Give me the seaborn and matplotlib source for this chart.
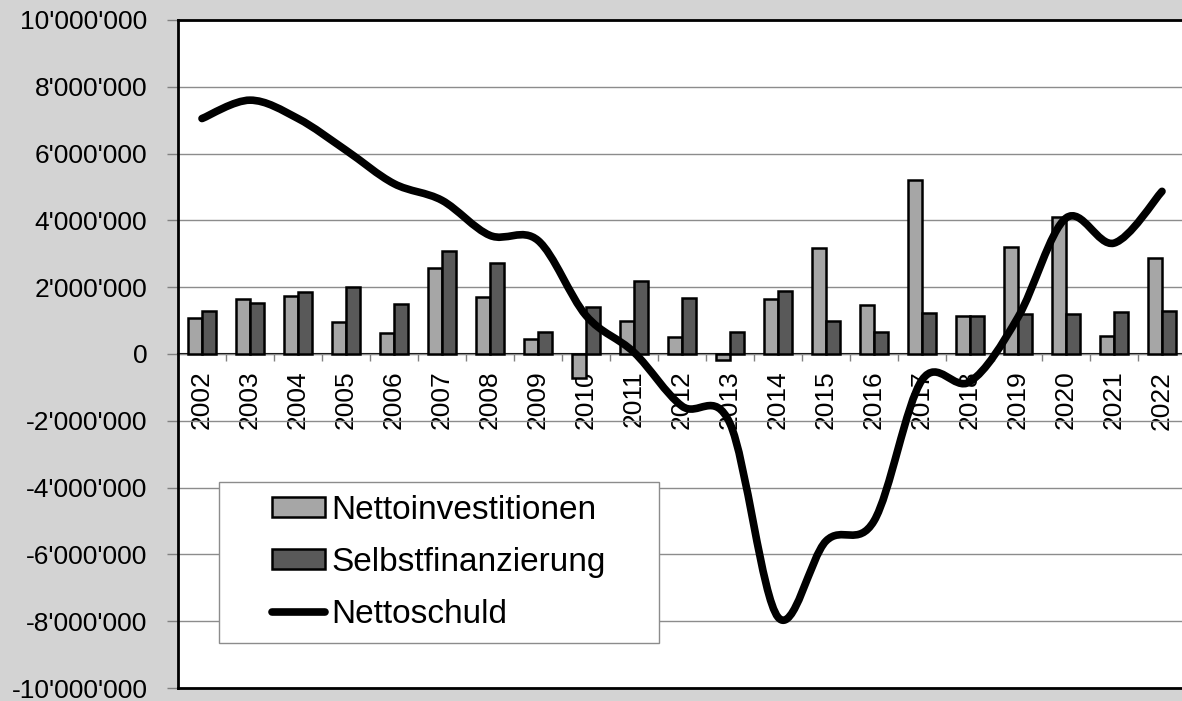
import pandas as pd
import seaborn as sns
import matplotlib.pyplot as plt
from matplotlib.path import Path
from matplotlib.patches import PathPatch, Patch
from matplotlib.lines import Line2D
from matplotlib.ticker import FuncFormatter, FixedLocator

# =========================
# DATA
# =========================

jahre = ["2002", "2003", "2004", "2005", "2006", "2007", "2008", "2009", "2010", "2011", "2012",
         "2013", "2014", "2015", "2016", "2017", "2018", "2019", "2020", "2021", "2022"]

nettoinvestitionen = [1070000, 1640000, 1750000, 960000, 620000, 2570000, 1720000, 450000, -720000,
                      1000000, 520000, -180000, 1640000, 3160000, 1460000, 5210000, 1140000,
                      3210000, 4090000, 540000, 2870000]

selbstfinanzierung = [1300000, 1520000, 1870000, 2000000, 1500000, 3090000, 2730000, 670000, 1420000,
                      2190000, 1670000, 670000, 1890000, 1000000, 670000, 1240000, 1140000,
                      1200000, 1200000, 1270000, 1290000]

nettoschuld = [7050000, 7600000, 7050000, 6100000, 5100000, 4600000, 3550000, 3400000, 1150000,
               50000, -1560000, -2080000, -7880000, -5600000, -5000000, -780000, -830000,
               1100000, 4070000, 3320000, 4870000]

serien = ["Nettoinvestitionen", "Selbstfinanzierung"]
farben = ["#a6a6a6", "#595959"]

df = pd.DataFrame({
    "Jahr": jahre * 2,
    "Serie": [serien[0]] * len(jahre) + [serien[1]] * len(jahre),
    "Wert": nettoinvestitionen + selbstfinanzierung,
})

# =========================
# FIGURE
# =========================

plt.rcParams['font.family'] = ['Liberation Sans', 'DejaVu Sans']

fig = plt.figure(figsize=(11.82, 7.01), dpi=100, facecolor="#d3d3d3")
ax = fig.add_axes([178 / 1182, 13 / 701, 1008 / 1182, 668 / 701])
ax.set_facecolor("white")

sns.barplot(data=df, x="Jahr", y="Wert", hue="Serie", order=jahre, hue_order=serien,
            palette=farben, width=0.6, edgecolor="black", linewidth=1.8,
            legend=False, ax=ax, zorder=2)

# smoothed line (Excel-like) through the Nettoschuld points
xs = list(range(len(jahre)))
verts = [(xs[0], nettoschuld[0])]
codes = [Path.MOVETO]
n = len(xs)
for i in range(n - 1):
    p0 = max(i - 1, 0)
    p3 = min(i + 2, n - 1)
    c1 = (xs[i] + (xs[i + 1] - xs[p0]) / 6, nettoschuld[i] + (nettoschuld[i + 1] - nettoschuld[p0]) / 6)
    c2 = (xs[i + 1] - (xs[p3] - xs[i]) / 6, nettoschuld[i + 1] - (nettoschuld[p3] - nettoschuld[i]) / 6)
    verts += [c1, c2, (xs[i + 1], nettoschuld[i + 1])]
    codes += [Path.CURVE4, Path.CURVE4, Path.CURVE4]
ax.add_patch(PathPatch(Path(verts, codes), facecolor="none", edgecolor="black",
                       linewidth=5.5, capstyle="round", joinstyle="round", zorder=4))

# =========================
# AXES
# =========================

ax.set_ylim(-10000000, 10000000)
ax.set_xlim(-0.5, len(jahre) - 0.5)
ax.yaxis.set_major_locator(FixedLocator(range(-10000000, 10000001, 2000000)))
ax.yaxis.set_major_formatter(FuncFormatter(lambda v, p: f"{v:,.0f}".replace(",", "'")))
ax.tick_params(axis="y", labelsize=19, length=8, width=1, color="#808080", pad=14)
ax.tick_params(axis="x", bottom=False, labelbottom=False)
ax.set_xlabel("")
ax.set_ylabel("")
ax.grid(axis="y", color="#8c8c8c", linewidth=1)
ax.set_axisbelow(True)
for s in ax.spines.values():
    s.set_linewidth(2)
    s.set_color("black")

# category axis through zero
sec = ax.secondary_xaxis(0.5)
sec.set_alignment("bottom")
sec.set_xticks(xs)
sec.set_xticklabels(jahre, rotation=90, fontsize=19)
sec.xaxis.set_minor_locator(FixedLocator([i - 0.5 for i in range(len(jahre) + 1)]))
sec.tick_params(axis="x", which="major", length=0, pad=12)
sec.tick_params(axis="x", which="minor", length=5, width=1, color="#808080")
sec.spines["bottom"].set_linewidth(1.5)
sec.spines["bottom"].set_color("black")


# legend frame: wider on the sides than on top/bottom
class LegendBox:
    def __call__(self, x0, y0, width, height, mutation_size):
        left = x0 - 1.21 * mutation_size
        right = x0 + width + 1.24 * mutation_size
        top = y0 + height
        return Path([(left, y0), (right, y0), (right, top), (left, top), (left, y0)], closed=True)


handles = [Patch(facecolor=farben[0], edgecolor="black", linewidth=1.8),
           Patch(facecolor=farben[1], edgecolor="black", linewidth=1.8),
           Line2D([0], [0], color="black", linewidth=5.5, solid_capstyle="round")]
leg = ax.legend(handles, serien + ["Nettoschuld"], loc="upper left",
                bbox_to_anchor=(0.0807, 0.3084), borderaxespad=0, fontsize=24,
                frameon=True, fancybox=False, framealpha=1, edgecolor="#8c8c8c",
                handlelength=1.6, handleheight=0.55, handletextpad=0.17,
                labelspacing=0.64, borderpad=0.38)
leg.get_frame().set_linewidth(1)
leg.get_frame().set_boxstyle(LegendBox())

plt.savefig("out.png", dpi=100, facecolor=fig.get_facecolor())
